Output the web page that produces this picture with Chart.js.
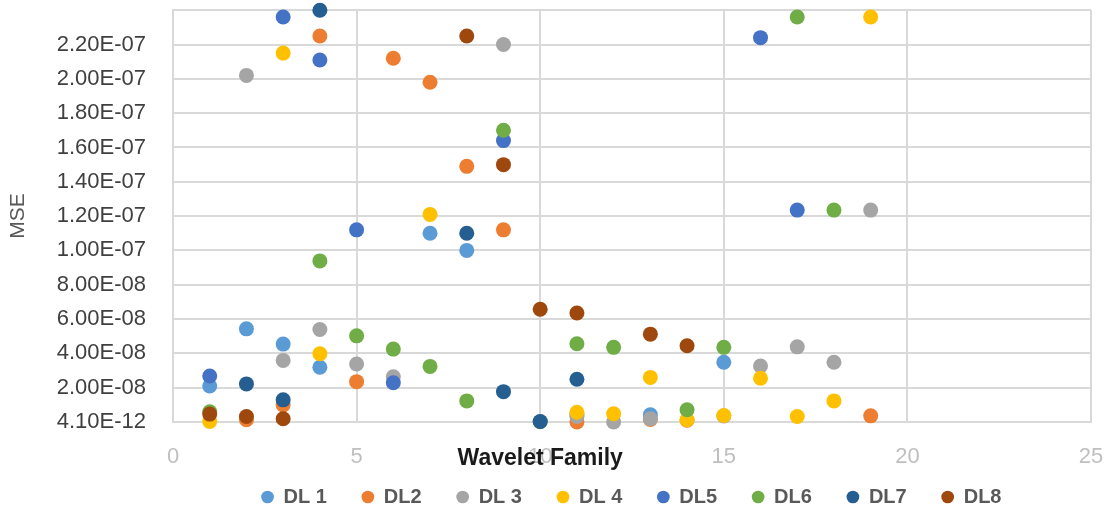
<!DOCTYPE html>
<html>
<head>
<meta charset="utf-8">
<title>MSE by wavelet family</title>
<script src="https://cdn.jsdelivr.net/npm/chart.js@4.4.1/dist/chart.umd.min.js"></script>
<style>
  html, body { margin: 0; padding: 0; background: #fff; }
  #wrap { width: 1107px; height: 512px; }
</style>
</head>
<body>
<div id="wrap"><canvas id="mseChart"></canvas></div>
<script>
'use strict';

// ── Data ─────────────────────────────────────────────────────────
// MSE values are in units of 1e-8, one slot per wavelet family 1..19
const families = [1, 2, 3, 4, 5, 6, 7, 8, 9, 10, 11, 12, 13, 14, 15, 16, 17, 18, 19];
const UNIT = 1e-8;

const dl1 = [2.10, 5.43, 4.54, 3.19, null, null, 11.0, 10.0, null, null, 0.45, null, 0.42, null, 3.48, null, null, null, null];
const dl2 = [null, 0.13, 1.00, 22.5, 2.35, 21.2, 19.8, 14.9, 11.2, null, 0.00, null, 0.15, 0.10, null, null, null, null, 0.36];
const dl3 = [null, 20.2, 3.59, 5.39, 3.38, 2.64, null, null, 22.0, null, 0.32, 0.00, 0.19, null, 0.35, 3.26, 4.38, 3.48, 12.35];
const dl4 = [0.03, null, 21.5, 3.98, null, null, 12.1, null, null, null, 0.57, 0.48, 2.60, 0.13, 0.38, 2.55, 0.32, 1.23, 23.6];
const dl5 = [2.68, null, 23.6, 21.1, 11.2, 2.29, null, null, 16.4, null, null, null, null, null, null, 22.4, 12.35, null, null];
const dl6 = [0.60, null, null, 9.39, 5.02, 4.25, 3.24, 1.23, 17.0, 0.02, 4.56, 4.35, null, 0.71, 4.35, null, 23.6, 12.35, null];
const dl7 = [null, 2.22, 1.29, 24.0, null, null, null, 11.0, 1.77, 0.03, 2.49, null, null, null, null, null, null, null, null];
const dl8 = [0.46, 0.32, 0.19, null, null, null, null, 22.5, 15.0, 6.57, 6.35, null, 5.12, 4.44, null, null, null, null, null];

const seriesNames  = ['DL 1', 'DL2', 'DL 3', 'DL 4', 'DL5', 'DL6', 'DL7', 'DL8'];
const seriesValues = [dl1, dl2, dl3, dl4, dl5, dl6, dl7, dl8];
const seriesColors = ['#5B9BD5', '#ED7D31', '#A5A5A5', '#FFC000', '#4472C4', '#70AD47', '#255E91', '#9E480E'];

const yTickLabels = ['4.10E-12', '2.00E-08', '4.00E-08', '6.00E-08', '8.00E-08', '1.00E-07', '1.20E-07',
                     '1.40E-07', '1.60E-07', '1.80E-07', '2.00E-07', '2.20E-07', ''];
const xTickLabels = ['0', '5', '10', '15', '20', '25'];
const xTitle = 'Wavelet Family';
const yTitle = 'MSE';

// ── Build datasets ───────────────────────────────────────────────
function toPoints(values) {
    const pts = [];
    values.forEach((v, i) => {
        if (v !== null) pts.push({ x: families[i], y: v * UNIT });
    });
    return pts;
}

const datasets = seriesNames.map((name, i) => ({
    label: name,
    data: toPoints(seriesValues[i]),
    backgroundColor: seriesColors[i],
    borderColor: seriesColors[i],
    borderWidth: 0,
    pointRadius: 7.5,
    pointHoverRadius: 7.5,
    clip: false,
    order: seriesNames.length - i   // later series drawn on top, like Excel
}));

const FONT = "'Liberation Sans', Arial, sans-serif";
const GRID = '#d9d9d9';
const NONE = 'rgba(0,0,0,0)';

// ── Small layout helpers ─────────────────────────────────────────
// x-axis title sits on the tick row, a bit left of centre (as in the Excel original)
const xTitlePlugin = {
    id: 'xTitleOnTicks',
    afterDraw(chart) {
        const { ctx, chartArea } = chart;
        const xs = chart.scales.x;
        ctx.save();
        ctx.font = `bold 23px ${FONT}`;
        ctx.fillStyle = '#1a1a1a';
        ctx.textAlign = 'center';
        ctx.textBaseline = 'middle';
        ctx.fillText(xTitle, chartArea.left + (chartArea.right - chartArea.left) * 0.4, xs.top + 37);
        ctx.restore();
    }
};

// legend block is offset right and up in the original
const legendShift = {
    id: 'legendShift',
    afterLayout(chart) {
        const lg = chart.legend;
        if (!lg) return;
        lg.left += 86;
        lg.right += 86;
        lg.top -= 18;
        lg.bottom -= 18;
    }
};

new Chart(document.getElementById('mseChart'), {
    type: 'scatter',
    data: { datasets },
    plugins: [xTitlePlugin, legendShift],
    options: {
        responsive: true,
        maintainAspectRatio: false,
        animation: false,
        layout: { padding: { top: 9, right: 16, bottom: -23, left: 0 } },
        plugins: {
            tooltip: { enabled: false },
            legend: {
                position: 'bottom',
                labels: {
                    usePointStyle: true,
                    pointStyle: 'circle',
                    boxWidth: 12,
                    boxHeight: 9,
                    padding: 35,
                    color: '#595959',
                    font: { family: FONT, size: 20, weight: 'bold' },
                    sort: (a, b) => a.datasetIndex - b.datasetIndex
                }
            }
        },
        scales: {
            x: {
                type: 'linear',
                min: 0,
                max: 25,
                grid: { color: GRID, lineWidth: 2, drawTicks: true, tickLength: 22, tickColor: NONE },
                border: { color: GRID, width: 2 },
                ticks: {
                    stepSize: 5,
                    padding: 0,
                    color: '#bfbfbf',
                    font: { family: FONT, size: 22 },
                    callback: (v, i) => xTickLabels[i]
                },
                afterFit: scale => { scale.height = 48; }
            },
            y: {
                type: 'linear',
                min: 0,
                max: 2.4e-7,
                grid: { color: GRID, lineWidth: 2, drawTicks: true, tickLength: 30, tickColor: NONE },
                border: { color: GRID, width: 2 },
                ticks: {
                    stepSize: 2e-8,
                    padding: -3,
                    color: '#404040',
                    font: { family: FONT, size: 22 },
                    callback: (v, i) => yTickLabels[i]
                },
                title: {
                    display: true,
                    text: yTitle,
                    color: '#595959',
                    font: { family: FONT, size: 21 },
                    padding: { top: 6, bottom: 0 }
                },
                afterFit: scale => { scale.width = 173; }
            }
        }
    }
});
</script>
</body>
</html>
